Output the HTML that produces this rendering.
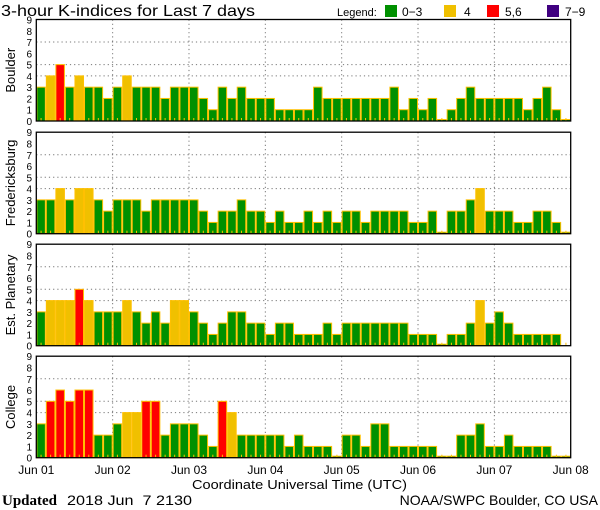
<!DOCTYPE html>
<html><head><meta charset="utf-8"><style>
body{margin:0;background:#fff;}
svg{display:block;font-family:"Liberation Sans",sans-serif;}
</style></head><body>
<svg id="chart" width="600" height="510" viewBox="0 0 600 510">
<text x="1" y="16" font-size="16" textLength="254" lengthAdjust="spacingAndGlyphs">3-hour K-indices for Last 7 days</text>
<g>
<text x="337" y="16" font-size="11">Legend:</text>
<rect x="385" y="5" width="12" height="12" fill="#009000"/>
<text x="402" y="16" font-size="12">0−3</text>
<rect x="444" y="5" width="12" height="12" fill="#f0c000"/>
<text x="464" y="16" font-size="12">4</text>
<rect x="487" y="5" width="12" height="12" fill="#ff0000"/>
<text x="505" y="16" font-size="12">5,6</text>
<rect x="547" y="5" width="12" height="12" fill="#400080"/>
<text x="565" y="16" font-size="12">7−9</text>
</g>
<g id="panels"></g>
<g id="xlabels"></g>
<text x="192" y="489" font-size="13" textLength="215" lengthAdjust="spacingAndGlyphs">Coordinate Universal Time (UTC)</text>
<text x="2" y="505" font-size="15" font-weight="bold" font-family="Liberation Serif,serif">Updated</text>
<text x="67" y="505" font-size="14" textLength="125" lengthAdjust="spacingAndGlyphs" xml:space="preserve">2018 Jun  7 2130</text>
<text x="598" y="505" font-size="14" text-anchor="end">NOAA/SWPC Boulder, CO USA</text>
</svg>
<script>
const stations = ["Boulder","Fredericksburg","Est. Planetary","College"];
const dayLabels = ["Jun 01","Jun 02","Jun 03","Jun 04","Jun 05","Jun 06","Jun 07","Jun 08"];
const yTicks = [0,1,2,3,4,5,6,7,8,9];
const boulder = [3,4,5,3,4,3,3,2, 3,4,3,3,3,2,3,3, 3,2,1,3,2,3,2,2, 2,1,1,1,1,3,2,2, 2,2,2,2,2,3,1,2, 1,2,0,1,2,3,2,2, 2,2,2,1,2,3,1,0];
const fredericksburg = [3,3,4,3,4,4,3,2, 3,3,3,2,3,3,3,3, 3,2,1,2,2,3,2,2, 1,2,1,1,2,1,2,1, 2,2,1,2,2,2,2,1, 1,2,0,2,2,3,4,2, 2,2,1,1,2,2,1,0];
const planetary = [3,4,4,4,5,4,3,3, 3,4,3,2,3,2,4,4, 3,2,1,2,3,3,2,2, 1,2,2,1,1,1,2,1, 2,2,2,2,2,2,2,1, 1,1,0,1,1,2,4,2, 3,2,1,1,1,1,1,null];
const college = [3,5,6,5,6,6,2,2, 3,4,4,5,5,2,3,3, 3,2,1,5,4,2,2,2, 2,2,1,2,1,1,1,0, 2,2,1,3,3,1,1,1, 1,1,0,0,2,2,3,1, 1,2,1,1,1,1,0,0];
const series = [boulder,fredericksburg,planetary,college];

const NS="http://www.w3.org/2000/svg";
const X0=36.3, X1=570.7, PH=101.5;
const panelTops=[19.5,132.2,244.2,356.2];
const nBars=56;
function xScale(i){return X0+(X1-X0)*i/nBars;}
function yScale(v,top){return top+PH-v*PH/9;}
function color(v){return v>=7?"#400080":v>=5?"#ff0000":v>=4?"#f0c000":"#009000";}
function mk(tag,attrs,parent){const e=document.createElementNS(NS,tag);for(const k in attrs)e.setAttribute(k,attrs[k]);parent.appendChild(e);return e;}
const panels=document.getElementById("panels");
series.forEach((data,p)=>{
  const top=panelTops[p];
  const g=mk("g",{},panels);
  
  
  [4,5,7].forEach(v=>{
    const l=mk("line",{x1:X0,x2:X1,y1:yScale(v,top),y2:yScale(v,top),stroke:"#777","stroke-dasharray":"1.2,3","stroke-width":1},g);
    
    
  });
  for(let d=1;d<7;d++){
    const x=xScale(d*8);
    const l=mk("line",{x1:x,x2:x,y1:top,y2:top+PH,stroke:"#777","stroke-dasharray":"1.2,3","stroke-width":1},g);
    
    
  }
  data.forEach((v,i)=>{
    if(v===null)return;
    const x=xScale(i),w=xScale(i+1)-x;
    const y=v===0?top+PH-1.5:yScale(v,top);
    const r=mk("rect",{x:x+0.5,y:y,width:w-1,height:top+PH-y,fill:color(v),stroke:"#ffc000","stroke-width":1},g);
    
    
  });
  for(let i=0;i<nBars;i++){
    const x=(xScale(i)+xScale(i+1))/2;
    const t=mk("line",{x1:x,x2:x,y1:top+PH-3,y2:top+PH,stroke:"#ffc000","stroke-width":1},g);
    
    
  }
  const f=mk("rect",{x:X0,y:top,width:X1-X0,height:PH,fill:"none",stroke:"#000","stroke-width":1.3},g);
  
  
  yTicks.forEach(v=>{
    const t=mk("text",{x:32,y:yScale(v,top)+4,"font-size":10,"text-anchor":"end"},g);
    t.textContent=v;
    
    
  });
  const lab=mk("text",{x:0,y:0,"font-size":13,"text-anchor":"middle",transform:"translate(15,"+(top+PH/2)+") rotate(-90)"},g);
  lab.textContent=stations[p];
  
  
});
const xl=document.getElementById("xlabels");
dayLabels.forEach((s,d)=>{
  const t=mk("text",{x:xScale(d*8),y:474,"font-size":12,"text-anchor":"middle"},xl);
  t.textContent=s;
  
  
});
</script>
</body></html>
